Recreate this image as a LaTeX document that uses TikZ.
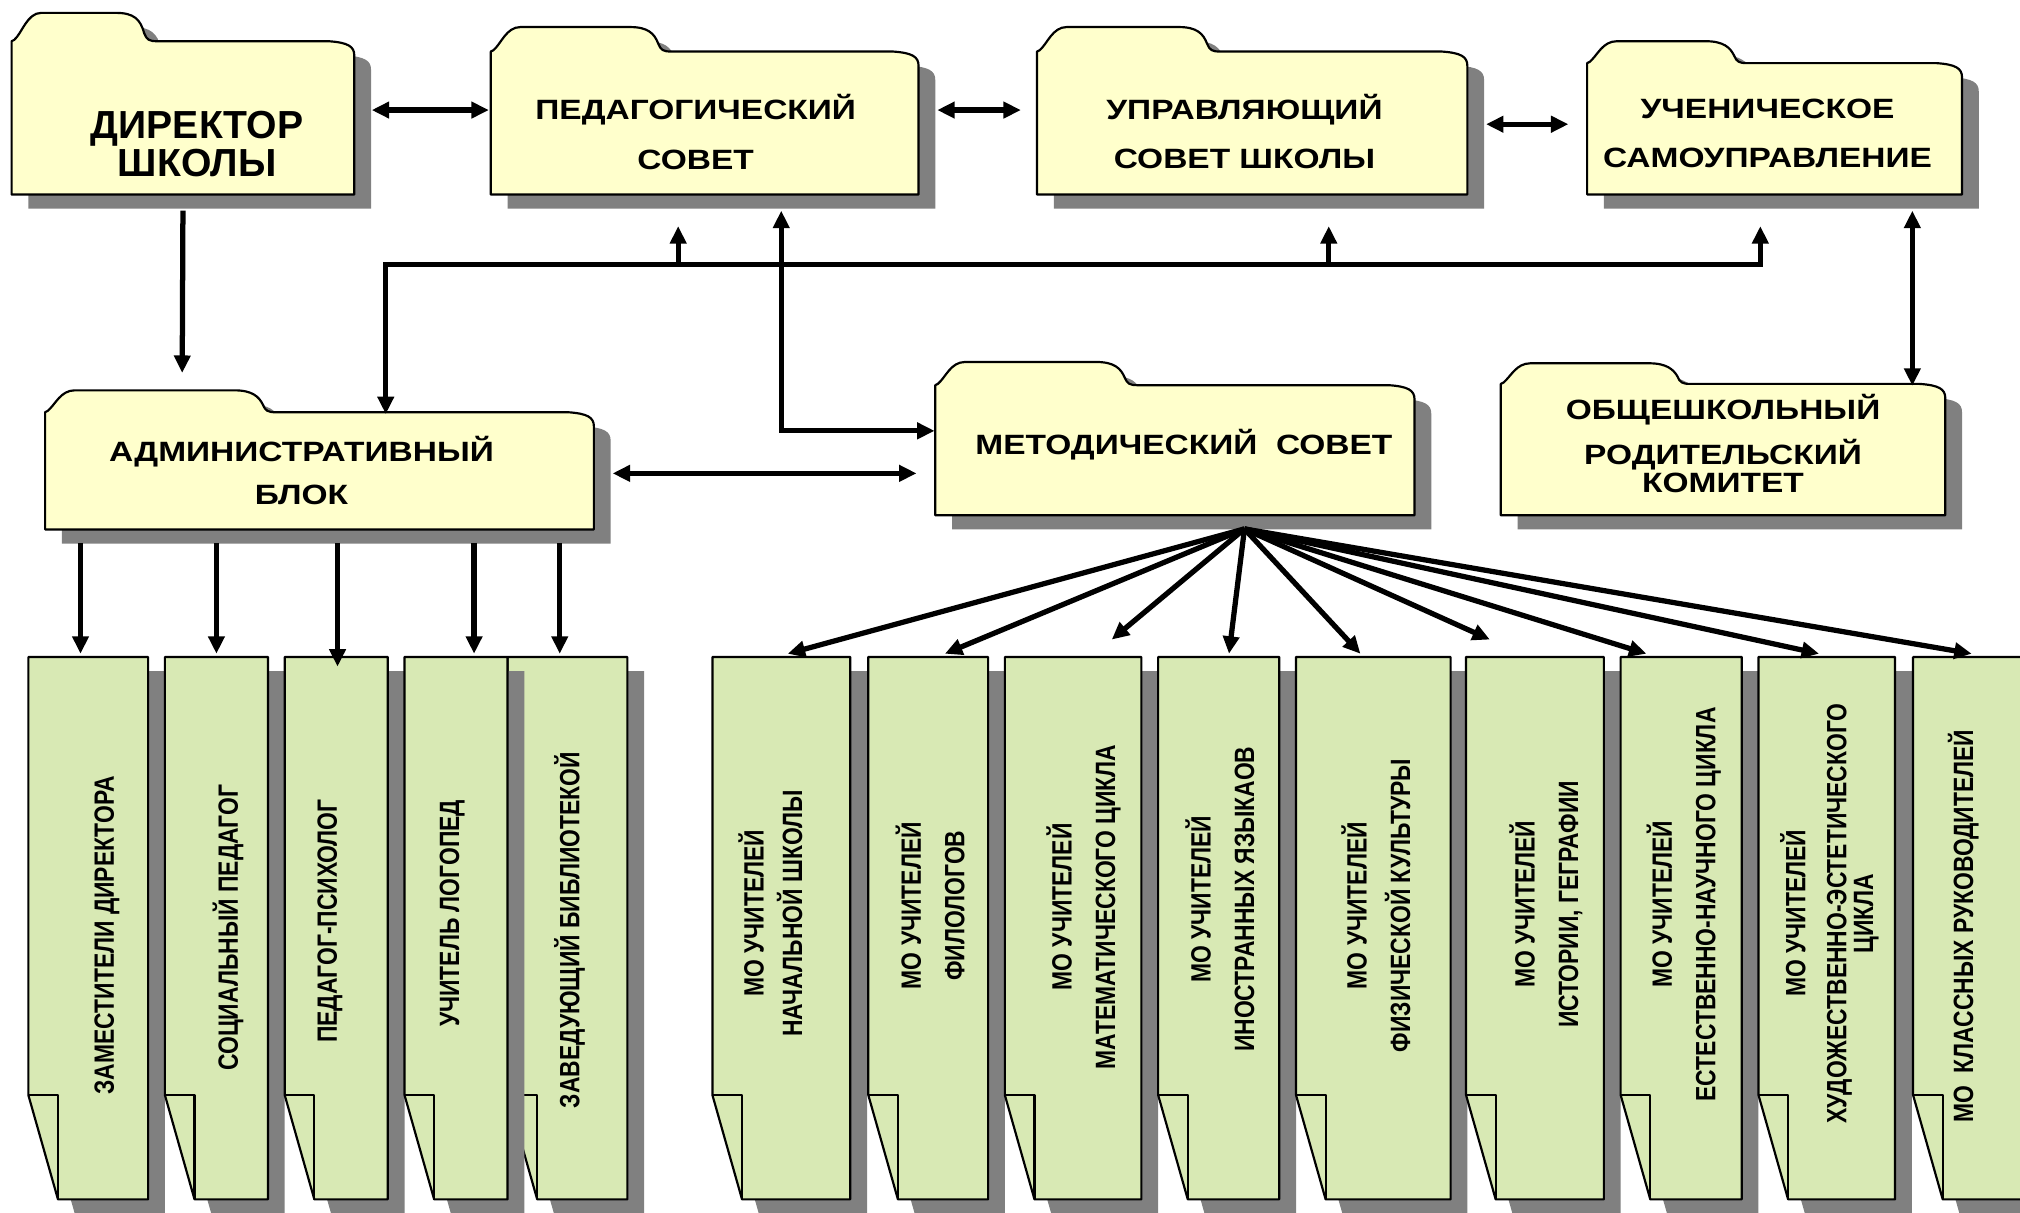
\documentclass[tikz,border=0pt]{standalone}
\usepackage{fontspec}
\setmainfont{Liberation Sans}
\newfontfamily\widefont[FakeStretch=1.2]{Liberation Sans}
\newfontfamily\narrowfont[FakeStretch=0.82]{Liberation Sans}
\usetikzlibrary{arrows.meta,calc,fit}

\definecolor{folderyel}{HTML}{FFFFCC}
\definecolor{boxgreen}{HTML}{D8E9B4}
\definecolor{shadowgray}{HTML}{808080}

\AtBeginDocument{\lineskiplimit=-100pt}

\tikzset{
  outline/.style={draw=black, line width=0.6pt, line join=round},
  arr/.style={line width=1.45pt, -{Triangle[length=4.8pt,width=4.4pt]}},
  dbl/.style={line width=1.45pt, {Triangle[length=4.8pt,width=4.4pt]}-{Triangle[length=4.8pt,width=4.4pt]}},
  toptext/.style={font=\widefont\bfseries\fontsize{7.7}{13.6}\selectfont, align=center, inner sep=0pt},
  sidetext/.style={font=\narrowfont\bfseries\fontsize{7.7}{12}\selectfont, align=center, inner sep=0pt, rotate=90}
}

% folder outline: x0, top, x1, bottom, tab end, tab height
\newcommand{\folderpath}[6]{(#1,#4) -- (#1,#2) -- (#1+2,#2-1)
  .. controls (#1+8,#2-6) and (#1+12,#2-#6) .. (#1+23,#2-#6)
  -- (#5-30,#2-#6)
  .. controls (#5-16,#2-#6) and (#5-11,#2-#6+5) .. (#5-8,#2-6)
  .. controls (#5-6,#2-1) and (#5-4,#2) .. (#5+2,#2)
  -- (#3-20,#2)
  .. controls (#3-5,#2+1) and (#3,#2+4) .. (#3,#2+11)
  -- (#3,#4) -- cycle}

% sheet with folded corner: x0, x1
\newcommand{\paperpath}[2]{(#1,510) -- (#2,510) -- (#2,931) -- (#1+23,931) -- (#1,850) -- cycle}

% name, x0, top, x1, bottom, tab end, tab height
\newcommand{\folder}[7]{%
  \fill[shadowgray, shift={(13,11)}] \folderpath{#2}{#3}{#4}{#5}{#6}{#7};
  \draw[outline, fill=folderyel] \folderpath{#2}{#3}{#4}{#5}{#6}{#7};
  \node[fit={(#2,#3) (#4,#5)}, inner sep=0pt] (#1) {};
}

\begin{document}
\begin{tikzpicture}[x=0.0125cm, y=-0.0125cm]
\useasboundingbox (0,0) rectangle (1568,941);
\clip (0,0) rectangle (1568,941);

%% top row
\folder{dir}{9}{32}{275}{151}{120}{22}
\folder{ped}{381}{40}{713}{151}{519}{19}
\folder{upr}{805}{40}{1139}{151}{945}{19}
\folder{uch}{1232}{49}{1523}{151}{1354}{17}

%% middle row
\folder{adm}{35}{320}{461}{411}{212}{17}
\folder{met}{726}{299}{1098}{400}{881}{18}
\folder{rod}{1165}{298}{1510}{400}{1310}{16}

%% bottom row
\foreach \x/\xx/\nm in {22/115/zam, 128/208/soc, 221/301/psy, 394/487/bib, 314/394/log,
  553/660/mo1, 674/767/mo2, 780/886/mo3, 899/993/mo4, 1006/1126/mo5,
  1138/1245/mo6, 1258/1352/mo7, 1365/1471/mo8, 1485/1600/mo9}
{
  \fill[shadowgray, shift={(13,11)}] \paperpath{\x}{\xx};
  \draw[outline, fill=boxgreen] \paperpath{\x}{\xx};
  \draw[outline] (\x,850) -- (\x+23,850) -- (\x+23,931);
  \node[fit={(\x,510) (\xx,931)}, inner sep=0pt] (\nm) {};
}

%% texts
\node[toptext, font=\bfseries\fontsize{10.8}{10.6}\selectfont] (dirtext) at (153,112) {ДИРЕКТОР\\ШКОЛЫ};
\node[toptext] (pedtext) at (540,102.5) {ПЕДАГОГИЧЕСКИЙ\\СОВЕТ};
\node[toptext] (uprtext) at (966,102) {УПРАВЛЯЮЩИЙ\\СОВЕТ ШКОЛЫ};
\node[toptext] (uchtext) at (1372,103.5) {УЧЕНИЧЕСКОЕ\\САМОУПРАВЛЕНИЕ};
\node[toptext] (admtext) at (234,365) {АДМИНИСТРАТИВНЫЙ\\[-1.7pt]БЛОК};
\node[toptext] (mettext) at (919,345) {МЕТОДИЧЕСКИЙ\ \ СОВЕТ};
\node[toptext] (rodtext) at (1337.5,344) {ОБЩЕШКОЛЬНЫЙ\\[-1pt]РОДИТЕЛЬСКИЙ\\[-6.1pt]КОМИТЕТ};

\node[sidetext] (zamtext) at (83,726) {ЗАМЕСТИТЕЛИ ДИРЕКТОРА};
\node[sidetext] (soctext) at (177,720) {СОЦИАЛЬНЫЙ ПЕДАГОГ};
\node[sidetext] (psytext) at (256,715) {ПЕДАГОГ-ПСИХОЛОГ};
\node[sidetext] (logtext) at (351,709) {УЧИТЕЛЬ ЛОГОПЕД};
\node[sidetext] (bibtext) at (442,722) {ЗАВЕДУЮЩИЙ БИБЛИОТЕКОЙ};
\node[sidetext] (mo1text) at (598,709) {МО УЧИТЕЛЕЙ\\[-1.4pt]НАЧАЛЬНОЙ ШКОЛЫ};
\node[sidetext] (mo2text) at (722,703) {МО УЧИТЕЛЕЙ\\ФИЛОЛОГОВ};
\node[sidetext] (mo3text) at (841,704) {МО УЧИТЕЛЕЙ\\МАТЕМАТИЧЕСКОГО ЦИКЛА};
\node[sidetext] (mo4text) at (947,698) {МО УЧИТЕЛЕЙ\\ИНОСТРАННЫХ ЯЗЫКАОВ};
\node[sidetext] (mo5text) at (1068,703) {МО УЧИТЕЛЕЙ\\ФИЗИЧЕСКОЙ КУЛЬТУРЫ};
\node[sidetext] (mo6text) at (1200,702) {МО УЧИТЕЛЕЙ\\ИСТОРИИ, ГЕГРАФИИ};
\node[sidetext] (mo7text) at (1307,702) {МО УЧИТЕЛЕЙ\\ЕСТЕСТВЕННО-НАУЧНОГО ЦИКЛА};
\node[sidetext] (mo8text) at (1420,709) {МО УЧИТЕЛЕЙ\\[-0.7pt]ХУДОЖЕСТВЕННО-ЭСТЕТИЧЕСКОГО\\[-4.6pt]ЦИКЛА};
\node[sidetext] (mo9text) at (1524,719) {МО\ \ КЛАССНЫХ РУКОВОДИТЕЛЕЙ};

%% top row links
\draw[dbl] ($(dir.north east)+(13,54)$) -- ($(ped.north west)+(-1,46)$);
\draw[dbl] ($(ped.north east)+(14,46)$) -- ($(upr.north west)+(-12,46)$);
\draw[dbl] ($(upr.north east)+(14,57)$) -- ($(uch.north west)+(-14,48)$);

%% director down to admin
\draw[arr] ($(dir.south)+(0,12)$) -- ($(adm.north west)+(107,-30)$);

%% admin up to the councils
\draw[dbl] ($(adm.north west)+(265,2)$) |- ($(uch.south west)+(135,54)$) -- ($(uch.south west)+(135,24)$);
\draw[arr] ($(ped.south west)+(146,54)$) -- ($(ped.south west)+(146,24)$);
\draw[arr] ($(upr.south west)+(227,54)$) -- ($(upr.south west)+(227,24)$);

%% ped council - method council
\draw[dbl] ($(ped.south west)+(226,12)$) |- ($(met.north west)+(0,36)$);

%% admin - method council
\draw[dbl] ($(adm.north east)+(14,48)$) -- ($(met.north west)+(-14,69)$);

%% pupils - parents
\draw[dbl] ($(uch.south west)+(253,12)$) -- ($(rod.north west)+(320,2)$);

%% admin staff
\foreach \nm/\dx/\dy in {zam/-6/-2, soc/0/-2, psy/1/8, log/14/-2, bib/-6/-2}
  \draw[arr] ($(\nm.north)+(\dx,-88)$) -- ($(\nm.north)+(\dx,\dy)$);

%% method groups
\coordinate (fan) at ($(met.south)+(54,10)$);
\foreach \nm/\dx/\dy in {mo1/5/-2, mo2/13/-2, mo3/30/-13, mo4/8/-2, mo5/-10/-2,
  mo6/-35/-13, mo7/-27/-2, mo8/-6/-2, mo9/-12/-2}
  \draw[arr] (fan) -- ($(\nm.north)+(\dx,\dy)$);

\end{tikzpicture}
\end{document}
